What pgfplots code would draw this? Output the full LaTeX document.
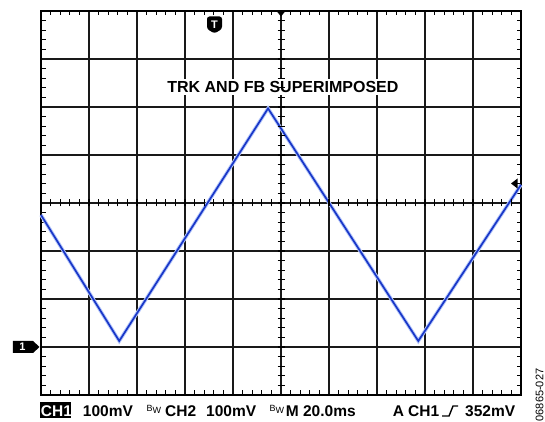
\documentclass[border=0pt]{standalone}
\usepackage{fontspec}
\setmainfont{Liberation Sans}
\usepackage{pgfplots}
\usepackage{pgfplotstable}
\pgfplotsset{compat=1.18}

\definecolor{trace}{RGB}{25,55,200}
\definecolor{halo}{RGB}{180,198,250}

% scope trace, in divisions (10 x 8 grid)
\pgfplotstableread{
t     v
-5.00 -0.25
-3.37 -2.875
-0.27  1.97
 2.86 -2.875
 5.00  0.38
}\tracedata

\newcommand{\bw}{{\fontsize{9}{9}\selectfont\mdseries\raisebox{6pt}{B}\raisebox{3pt}{W}}}

\begin{document}
\begin{tikzpicture}
\useasboundingbox (-41pt,-27pt) rectangle (504pt,395pt);

\begin{axis}[
    at={(0pt,0pt)}, anchor=south west,
    scale only axis, width=480pt, height=384pt,
    xmin=-5, xmax=5, ymin=-4, ymax=4,
    xtick={-5,...,5}, ytick={-4,...,4},
    xticklabels={}, yticklabels={},
    tick pos=both, tick align=inside,
    minor tick num=4, major tick length=0pt, minor tick length=4.5pt,
    minor tick style={black, line width=1pt},
    grid=major, major grid style={black!90, line width=1.3pt},
    axis line style={black, line width=2pt},
    clip=false,
]
\node[fill=white, inner sep=2pt, font=\bfseries\fontsize{16}{16}\selectfont]
    at (axis cs:0.04,2.42) {TRK AND FB SUPERIMPOSED};
\addplot[halo, line width=3.6pt] table[x=t, y=v] {\tracedata};
\addplot[trace, line width=1.7pt] table[x=t, y=v] {\tracedata};
\end{axis}

% small ticks on the centre crosshair (axis box is 480pt x 384pt, 9.6pt per minor div)
\foreach \k in {1,...,49} {\draw[black, line width=1.1pt] (\k*9.6pt,188.5pt) -- (\k*9.6pt,195.5pt);}
\foreach \k in {1,...,39} {\draw[black, line width=1.1pt] (236.5pt,\k*9.6pt) -- (243.5pt,\k*9.6pt);}

% screen markers
\fill[black, rounded corners=2.5pt] (166pt,366pt) -- (166pt,378.5pt) -- (181pt,378.5pt) -- (181pt,366pt) -- (173.5pt,361.5pt) -- cycle;
\node[text=white, font=\bfseries\fontsize{11}{11}\selectfont, inner sep=0pt] at (173.5pt,370.5pt) {T};
\fill[black] (235.5pt,384pt) -- (244.5pt,384pt) -- (240pt,378.5pt) -- cycle;
\fill[black] (470pt,211.5pt) -- (476.5pt,216.5pt) -- (476.5pt,206.5pt) -- cycle;
\fill[black] (-28pt,54pt) -- (-8pt,54pt) -- (-1.5pt,48pt) -- (-8pt,42pt) -- (-28pt,42pt) -- cycle;
\node[text=white, font=\bfseries\fontsize{11}{11}\selectfont, inner sep=0pt] at (-18.5pt,48pt) {1};

% status line
\begin{scope}[every node/.style={anchor=base west, inner sep=0pt, font=\bfseries\fontsize{15.5}{15.5}\selectfont}]
\fill[black] (-1pt,-7.5pt) rectangle (30pt,-23.5pt);
\node[text=white] at (-0.3pt,-21.5pt) {CH1};
\node at (41.7pt,-22pt) {100mV};
\node at (105.5pt,-22pt) {\bw};
\node at (124pt,-22pt) {CH2};
\node at (165pt,-22pt) {100mV};
\node at (228.5pt,-22pt) {\bw};
\node at (244.7pt,-22pt) {M 20.0ms};
\node at (351.7pt,-22pt) {A};
\node at (367pt,-22pt) {CH1};
\node at (424pt,-22pt) {352mV};
\end{scope}
\draw[black, line width=1.4pt] (401pt,-21pt) -- (408pt,-21pt) -- (412pt,-11pt) -- (417pt,-11pt);
\node[rotate=90, inner sep=0pt, font=\fontsize{11}{11}\selectfont] at (498.5pt,0pt) {06865-027};
\end{tikzpicture}
\end{document}
